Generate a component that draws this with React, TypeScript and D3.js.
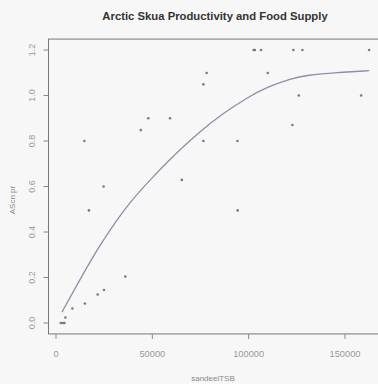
import React from "react";
import * as d3 from "d3";

const W = 378;
const H = 384;

const title = "Arctic Skua Productivity and Food Supply";
const xLabel = "sandeelTSB";
const yLabel = "AScn pr";

const xTicks = [0, 50000, 100000, 150000];
const yTicks = [0, 0.2, 0.4, 0.6, 0.8, 1.0, 1.2];

// observed points
const sandeel = [2500, 3600, 4400, 4900, 8500, 15000, 21650, 24900, 36000, 17100, 24700, 14700, 44000, 47900, 59200, 65300, 76500, 76500, 78200, 94200, 94300, 102600, 103200, 106400, 109900, 122700, 123200, 126000, 127900, 158400, 162500];
const productivity = [0, 0, 0, 0.024, 0.064, 0.086, 0.125, 0.145, 0.204, 0.495, 0.6, 0.8, 0.848, 0.9, 0.9, 0.629, 0.8, 1.049, 1.099, 0.8, 0.495, 1.2, 1.2, 1.2, 1.099, 0.87, 1.2, 1.0, 1.2, 1.0, 1.2];

// fitted curve
const fitX = [3100, 14000, 21300, 28000, 38400, 48800, 60700, 73700, 86200, 99700, 109500, 121500, 130300, 145900, 162500];
const fitY = [0.048, 0.215, 0.321, 0.409, 0.532, 0.629, 0.734, 0.835, 0.919, 0.993, 1.037, 1.073, 1.09, 1.101, 1.109];

export default function App() {
  const x = d3.scaleLinear().domain([0, 150000]).range([56, 345]);
  const y = d3.scaleLinear().domain([0, 1.2]).range([323, 50]);

  const xmin = d3.min(sandeel)!;
  const xmax = d3.max(sandeel)!;
  const pad = (xmax - xmin) * 0.04;
  const bx0 = x(xmin - pad);
  const bx1 = x(xmax + pad);
  const by0 = y(1.2 + 0.048);
  const by1 = y(-0.048);

  const line = d3
    .line<number>()
    .x((d, i) => x(fitX[i]))
    .y((d) => y(d))
    .curve(d3.curveBasis);

  const font = "'Liberation Sans', Arial, sans-serif";

  return (
    <svg width={W} height={H} style={{ position: "absolute", left: 0, top: 0, background: "#f7f7f7" }}>
      <rect x={0} y={0} width={W} height={H} fill="#f7f7f7" />
      <text x={215} y={20} textAnchor="middle" fontFamily={font} fontWeight="bold" fontSize={11.3} fill="#333">
        {title}
      </text>
      <rect x={bx0} y={by0} width={bx1 - bx0} height={by1 - by0} fill="none" stroke="#777" strokeWidth={1} />
      {xTicks.map((t) => (
        <g key={"x" + t}>
          <line x1={x(t)} x2={x(t)} y1={by1} y2={by1 + 5} stroke="#888" />
          <text x={x(t)} y={357} textAnchor="middle" fontFamily={font} fontSize={9.3} fill="#999">
            {t}
          </text>
        </g>
      ))}
      {yTicks.map((t) => (
        <g key={"y" + t}>
          <line x1={bx0 - 5} x2={bx0} y1={y(t)} y2={y(t)} stroke="#888" />
          <text
            transform={`translate(35,${y(t)}) rotate(-90)`}
            textAnchor="middle"
            fontFamily={font}
            fontSize={9}
            fill="#999"
          >
            {t.toFixed(1)}
          </text>
        </g>
      ))}
      <text x={213} y={381} textAnchor="middle" fontFamily={font} fontSize={8} fill="#888">
        {xLabel}
      </text>
      <text transform={`translate(15,200) rotate(-90)`} textAnchor="middle" fontFamily={font} fontSize={8} fill="#888">
        {yLabel}
      </text>
      <path d={line(fitY) || ""} fill="none" stroke="#8c90a8" strokeWidth={1.3} />
      {sandeel.map((v, i) => (
        <circle key={i} cx={x(v)} cy={y(productivity[i])} r={1.3} fill="#7a7a7a" />
      ))}
    </svg>
  );
}
